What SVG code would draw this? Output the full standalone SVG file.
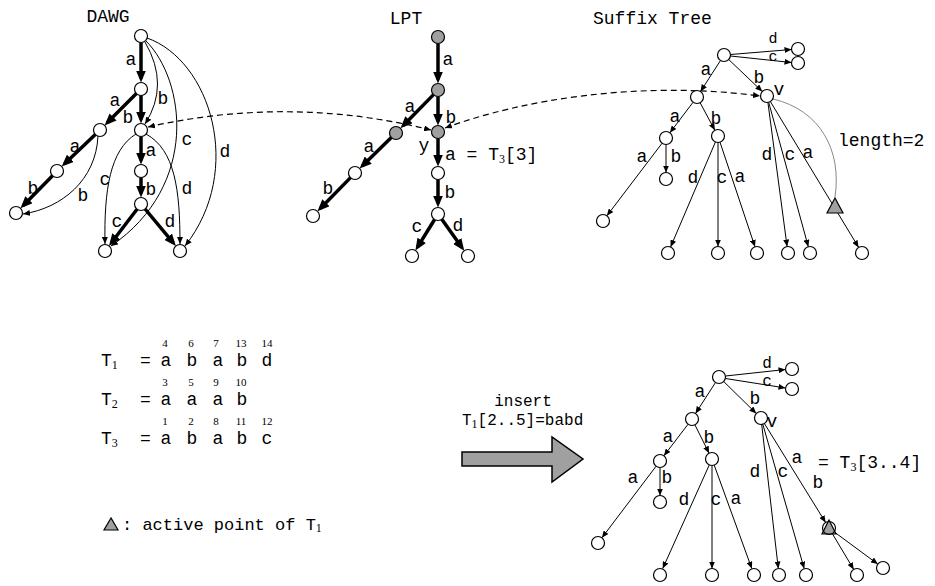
<svg xmlns="http://www.w3.org/2000/svg" width="935" height="586" viewBox="0 0 935 586">
<style>
.n{fill:#fff;stroke:#000;stroke-width:1.2}
.g{fill:#a0a0a0;stroke:#000;stroke-width:1.2}
.tk{stroke:#000;stroke-width:3.5;fill:none;marker-end:url(#ah)}
.tn{stroke:#000;stroke-width:1;fill:none;marker-end:url(#sh)}
.ds{stroke:#000;stroke-width:1.2;fill:none;stroke-dasharray:6 4;marker-end:url(#sh);marker-start:url(#sh)}
.t{font-family:"Liberation Mono","DejaVu Sans Mono",monospace;font-size:18px;fill:#000}
.m{text-anchor:middle}
.sm{font-size:16px}
.xs{font-size:15px}
.sub{font-family:"Liberation Serif",serif;font-size:12px}
.num{font-family:"Liberation Serif",serif;font-size:11px;text-anchor:middle}
</style>
<defs>
<marker id="ah" markerUnits="userSpaceOnUse" markerWidth="12" markerHeight="10" refX="8" refY="5" orient="auto"><path d="M0,0 L12,5 L0,10 z" fill="#000"/></marker>
<marker id="sh" markerUnits="userSpaceOnUse" markerWidth="7" markerHeight="6" refX="7" refY="3" orient="auto-start-reverse"><path d="M0,0 L7,3 L0,6 z" fill="#000"/></marker>
</defs>
<rect width="935" height="586" fill="#fff"/>

<!-- titles -->
<text class="t m" x="108" y="22">DAWG</text>
<text class="t m" x="406" y="24">LPT</text>
<text class="t" x="593" y="24">Suffix Tree</text>

<g id="connectors">
<!-- DAWG thick -->
<line class="tk" x1="141" y1="42.5" x2="141" y2="78.5"/>
<line class="tk" x1="141" y1="95.5" x2="141" y2="119.5"/>
<line class="tk" x1="136.4" y1="93.6" x2="107.4" y2="122.6"/>
<line class="tk" x1="95.3" y1="134.5" x2="64.6" y2="163.8"/>
<line class="tk" x1="52.5" y1="175.7" x2="23.3" y2="205.5"/>
<line class="tk" x1="141" y1="136.5" x2="141" y2="160.5"/>
<line class="tk" x1="141" y1="177.5" x2="141" y2="193.5"/>
<line class="tk" x1="137" y1="209.2" x2="111.4" y2="242.7"/>
<line class="tk" x1="145.1" y1="209" x2="173.3" y2="242.9"/>
<!-- DAWG thin -->
<path class="tn" d="M145,42 Q170,85 145,124"/>
<path class="tn" d="M146,41 C185,80 200,185 111,246"/>
<path class="tn" d="M147,38 C210,60 245,170 185,246"/>
<path class="tn" d="M98,136 C96,180 62,208 23,214"/>
<path class="tn" d="M136,134 C110,150 104,190 105,244"/>
<path class="tn" d="M146,134 C175,150 180,190 180,244"/>
<!-- LPT thick -->
<line class="tk" x1="438" y1="43.5" x2="438" y2="79.5"/>
<line class="tk" x1="438" y1="96.5" x2="438" y2="121.5"/>
<line class="tk" x1="433.5" y1="94.6" x2="403.3" y2="125.5"/>
<line class="tk" x1="391.3" y1="137.5" x2="362.5" y2="165.7"/>
<line class="tk" x1="350.5" y1="177.6" x2="320.3" y2="208.5"/>
<line class="tk" x1="438" y1="138.5" x2="438" y2="162.5"/>
<line class="tk" x1="438" y1="179.5" x2="438" y2="203.5"/>
<line class="tk" x1="434.6" y1="219.5" x2="417.5" y2="247.1"/>
<line class="tk" x1="441.8" y1="219.3" x2="461.9" y2="247.5"/>
<!-- dashed -->
<path class="ds" d="M148,127 Q290,95 431,130"/>
<path class="ds" d="M445,128 C520,100 640,80 760,96"/>
<!-- Suffix tree top -->
<line class="tn" x1="730.5" y1="54.5" x2="791.5" y2="49.5"/>
<line class="tn" x1="730.5" y1="56" x2="791.5" y2="62.5"/>
<line class="tn" x1="720.5" y1="60.5" x2="700.5" y2="91.5"/>
<line class="tn" x1="728.7" y1="59.5" x2="762.3" y2="91.5"/>
<line class="tn" x1="693.1" y1="102.2" x2="669.9" y2="132.8"/>
<line class="tn" x1="700.1" y1="102.7" x2="714.9" y2="130.3"/>
<line class="tn" x1="666" y1="144.5" x2="666" y2="172.5"/>
<line class="tn" x1="662.1" y1="143.2" x2="606.9" y2="215.8"/>
<line class="tn" x1="715.4" y1="142" x2="670.6" y2="247"/>
<line class="tn" x1="718" y1="142.5" x2="718" y2="246.5"/>
<line class="tn" x1="720" y1="142.2" x2="755" y2="246.8"/>
<line class="tn" x1="767.9" y1="102.4" x2="787.1" y2="246.6"/>
<line class="tn" x1="768.7" y1="102.3" x2="808.3" y2="246.7"/>
<line class="tn" x1="770.4" y1="101.6" x2="858.6" y2="247.4"/>
<path d="M773,99 C820,110 842,150 835,197" fill="none" stroke="#888" stroke-width="1"/>
<!-- Suffix tree bottom -->
<line class="tn" x1="725.5" y1="376" x2="785.5" y2="369.5"/>
<line class="tn" x1="725.5" y1="378.5" x2="785.5" y2="388"/>
<line class="tn" x1="715.5" y1="382.5" x2="695.5" y2="413.5"/>
<line class="tn" x1="723.7" y1="381.5" x2="756.3" y2="413.5"/>
<line class="tn" x1="688.1" y1="424.2" x2="663.9" y2="455.8"/>
<line class="tn" x1="694.9" y1="424.8" x2="709.1" y2="453.2"/>
<line class="tn" x1="660" y1="467.5" x2="660" y2="495.5"/>
<line class="tn" x1="656.1" y1="466.2" x2="601.9" y2="537.8"/>
<line class="tn" x1="709.3" y1="464.9" x2="662.7" y2="568.6"/>
<line class="tn" x1="712" y1="465.5" x2="712" y2="568.5"/>
<line class="tn" x1="714.2" y1="465.1" x2="751.8" y2="568.6"/>
<line class="tn" x1="761.7" y1="424.5" x2="778.3" y2="568.5"/>
<line class="tn" x1="762.8" y1="424.2" x2="804.2" y2="568.6"/>
<line class="tn" x1="764.4" y1="423.5" x2="825.6" y2="522.5"/>
<line class="tn" x1="832.3" y1="533.6" x2="853.7" y2="569.4"/>
<line class="tn" x1="834.2" y1="531.9" x2="877.8" y2="564.1"/>
</g>

<!-- DAWG nodes -->
<g id="dawg-r"><circle class="n" cx="141" cy="36" r="6.5"/></g>
<g id="dawg-1"><circle class="n" cx="141" cy="89" r="6.5"/></g>
<g id="dawg-l1"><circle class="n" cx="100" cy="130" r="6.5"/></g>
<g id="dawg-2"><circle class="n" cx="141" cy="130" r="6.5"/></g>
<g id="dawg-l2"><circle class="n" cx="57" cy="171" r="6.5"/></g>
<g id="dawg-l3"><circle class="n" cx="16" cy="213" r="6.5"/></g>
<g id="dawg-3"><circle class="n" cx="141" cy="171" r="6.5"/></g>
<g id="dawg-4"><circle class="n" cx="141" cy="204" r="6.5"/></g>
<g id="dawg-bl"><circle class="n" cx="105" cy="251" r="6.5"/></g>
<g id="dawg-br"><circle class="n" cx="180" cy="251" r="6.5"/></g>

<!-- LPT nodes -->
<g id="lpt-r"><circle class="g" cx="438" cy="37" r="6.5"/></g>
<g id="lpt-1"><circle class="g" cx="438" cy="90" r="6.5"/></g>
<g id="lpt-y"><circle class="g" cx="438" cy="132" r="6.5"/></g>
<g id="lpt-l1"><circle class="g" cx="396" cy="133" r="6.5"/></g>
<g id="lpt-l2"><circle class="n" cx="355" cy="173" r="6.5"/></g>
<g id="lpt-l3"><circle class="n" cx="313" cy="216" r="6.5"/></g>
<g id="lpt-3"><circle class="n" cx="438" cy="173" r="6.5"/></g>
<g id="lpt-4"><circle class="n" cx="438" cy="214" r="6.5"/></g>
<g id="lpt-bl"><circle class="n" cx="412" cy="256" r="6.5"/></g>
<g id="lpt-br"><circle class="n" cx="468" cy="256" r="6.5"/></g>

<!-- Suffix tree top nodes -->
<g id="st-r"><circle class="n" cx="724" cy="55" r="6.5"/></g>
<g id="st-d"><circle class="n" cx="798" cy="49" r="6.5"/></g>
<g id="st-c"><circle class="n" cx="798" cy="63" r="6.5"/></g>
<g id="st-a"><circle class="n" cx="697" cy="97" r="6.5"/></g>
<g id="st-v"><circle class="n" cx="767" cy="96" r="6.5"/></g>
<g id="st-aa"><circle class="n" cx="666" cy="138" r="6.5"/></g>
<g id="st-ab"><circle class="n" cx="718" cy="136" r="6.5"/></g>
<g id="st-aab"><circle class="n" cx="666" cy="179" r="6.5"/></g>
<g id="st-aaa"><circle class="n" cx="603" cy="221" r="6.5"/></g>
<g id="st-abd"><circle class="n" cx="668" cy="253" r="6.5"/></g>
<g id="st-abc"><circle class="n" cx="718" cy="253" r="6.5"/></g>
<g id="st-aba"><circle class="n" cx="757" cy="253" r="6.5"/></g>
<g id="st-vd"><circle class="n" cx="788" cy="253" r="6.5"/></g>
<g id="st-vc"><circle class="n" cx="810" cy="253" r="6.5"/></g>
<g id="st-va"><circle class="n" cx="862" cy="253" r="6.5"/></g>
<g id="st-ap"><polygon points="835,198 827,213 843,213" fill="#a0a0a0" stroke="#000" stroke-width="1.2"/></g>

<!-- Suffix tree bottom nodes -->
<g id="sb-r"><circle class="n" cx="719" cy="377" r="6.5"/></g>
<g id="sb-d"><circle class="n" cx="792" cy="369" r="6.5"/></g>
<g id="sb-c"><circle class="n" cx="792" cy="389" r="6.5"/></g>
<g id="sb-a"><circle class="n" cx="692" cy="419" r="6.5"/></g>
<g id="sb-v"><circle class="n" cx="761" cy="418" r="6.5"/></g>
<g id="sb-aa"><circle class="n" cx="660" cy="461" r="6.5"/></g>
<g id="sb-ab"><circle class="n" cx="712" cy="459" r="6.5"/></g>
<g id="sb-aab"><circle class="n" cx="660" cy="502" r="6.5"/></g>
<g id="sb-aaa"><circle class="n" cx="598" cy="543" r="6.5"/></g>
<g id="sb-abd"><circle class="n" cx="660" cy="575" r="6.5"/></g>
<g id="sb-abc"><circle class="n" cx="712" cy="575" r="6.5"/></g>
<g id="sb-aba"><circle class="n" cx="754" cy="575" r="6.5"/></g>
<g id="sb-vd"><circle class="n" cx="779" cy="575" r="6.5"/></g>
<g id="sb-vc"><circle class="n" cx="806" cy="575" r="6.5"/></g>
<g id="sb-x"><polygon points="829,520 822,534 836,534" fill="#a0a0a0" stroke="#000" stroke-width="1.2"/><circle cx="829" cy="528" r="6.5" fill="none" stroke="#000" stroke-width="1.2"/></g>
<g id="sb-x1"><circle class="n" cx="857" cy="575" r="6.5"/></g>
<g id="sb-x2"><circle class="n" cx="883" cy="568" r="6.5"/></g>

<!-- DAWG labels -->
<g class="t m">
<text x="131" y="65">a</text>
<text x="115" y="106">a</text>
<text x="163" y="104">b</text>
<text x="128" y="123">b</text>
<text x="75" y="152">a</text>
<text x="151" y="156">a</text>
<text x="187" y="145">c</text>
<text x="225" y="157">d</text>
<text x="105" y="185">c</text>
<text x="151" y="195">b</text>
<text x="187" y="194">d</text>
<text x="33" y="194">b</text>
<text x="83" y="201">b</text>
<text x="117" y="227">c</text>
<text x="170" y="227">d</text>
<!-- LPT labels -->
<text x="448" y="65">a</text>
<text x="410" y="112">a</text>
<text x="451" y="123">b</text>
<text x="424" y="151">y</text>
<text x="369" y="152">a</text>
<text x="450" y="198">b</text>
<text x="328" y="194">b</text>
<text x="417" y="232">c</text>
<text x="458" y="231">d</text>
<!-- ST top labels -->
<text class="xs" x="773" y="43">d</text>
<text class="xs" x="773" y="61">c</text>
<text x="706" y="75">a</text>
<text x="759" y="83">b</text>
<text x="779" y="95">v</text>
<text x="675" y="122">a</text>
<text x="716" y="124">b</text>
<text x="642" y="162">a</text>
<text x="676" y="162">b</text>
<text x="693" y="183">d</text>
<text x="722" y="183">c</text>
<text x="740" y="182">a</text>
<text x="767" y="160">d</text>
<text x="790" y="160">c</text>
<text x="808" y="158">a</text>
<!-- ST bottom labels -->
<text class="sm" x="767" y="368">d</text>
<text class="sm" x="767" y="386">c</text>
<text x="700" y="397">a</text>
<text x="755" y="404">b</text>
<text x="772" y="427">v</text>
<text x="668" y="442">a</text>
<text x="709" y="443">b</text>
<text x="633" y="483">a</text>
<text x="667" y="483">b</text>
<text x="684" y="505">d</text>
<text x="716" y="505">c</text>
<text x="736" y="504">a</text>
<text x="755" y="477">d</text>
<text x="783" y="477">c</text>
<text x="797" y="463">a</text>
<text x="818" y="488">b</text>
</g>
<text class="t" x="445" y="160">a = T<tspan class="sub" dy="3">3</tspan><tspan dy="-3">[3]</tspan></text>
<text class="t" x="838" y="146">length=2</text>
<text class="t" x="818" y="468">= T<tspan class="sub" dy="3">3</tspan><tspan dy="-3">[3..4]</tspan></text>

<!-- strings -->
<g class="t">
<text x="101" y="366">T<tspan class="sub" dy="3">1</tspan></text>
<text x="101" y="405">T<tspan class="sub" dy="3">2</tspan></text>
<text x="101" y="444">T<tspan class="sub" dy="3">3</tspan></text>
<text x="140" y="366">=</text>
<text x="140" y="405">=</text>
<text x="140" y="444">=</text>
</g>
<g class="t m">
<text x="166" y="366">a</text><text x="192" y="366">b</text><text x="218" y="366">a</text><text x="242" y="366">b</text><text x="267" y="366">d</text>
<text x="166" y="405">a</text><text x="192" y="405">a</text><text x="218" y="405">a</text><text x="242" y="405">b</text>
<text x="166" y="444">a</text><text x="192" y="444">b</text><text x="218" y="444">a</text><text x="242" y="444">b</text><text x="267" y="444">c</text>
</g>
<g class="num">
<text x="165" y="347">4</text><text x="191" y="347">6</text><text x="216" y="347">7</text><text x="241" y="347">13</text><text x="267" y="347">14</text>
<text x="165" y="386">3</text><text x="191" y="386">5</text><text x="216" y="386">9</text><text x="241" y="386">10</text>
<text x="165" y="425">1</text><text x="191" y="425">2</text><text x="216" y="425">8</text><text x="241" y="425">11</text><text x="267" y="425">12</text>
</g>

<!-- insert arrow -->
<text class="t m" x="523" y="406" style="font-size:16px">insert</text>
<text class="t" x="462" y="425" style="font-size:16px">T<tspan class="sub" dy="3">1</tspan><tspan dy="-3">[2..5]=babd</tspan></text>
<polygon points="462,452 552,452 552,437 583,459 552,482 552,466 462,466" fill="#a0a0a0" stroke="#000" stroke-width="1.5"/>

<!-- legend -->
<polygon points="111,518 104,530 118,530" fill="#a0a0a0" stroke="#000" stroke-width="1.2"/>
<text class="t" x="122" y="530" style="font-size:17px">: active point of T<tspan class="sub" dy="2">1</tspan></text>
</svg>
